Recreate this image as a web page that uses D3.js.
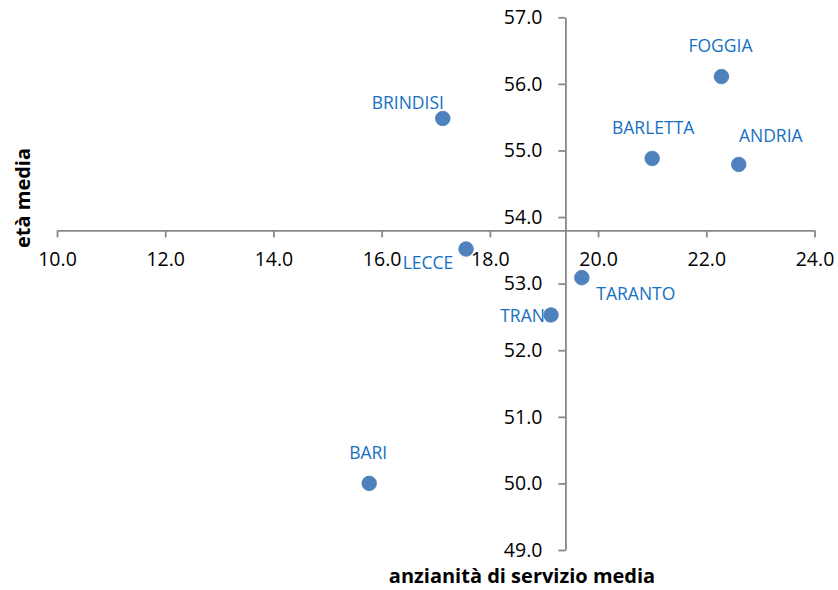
<!DOCTYPE html>
<html>
<head>
<meta charset="utf-8">
<script src="https://cdn.jsdelivr.net/npm/d3@7"></script>
<style>
  html, body { margin: 0; padding: 0; background: #fff; }
  svg { display: block; }
  text { font-family: "Open Sans", "Noto Sans", sans-serif; }
</style>
</head>
<body>
<svg id="chart" width="838" height="590"></svg>
<script>
// Provinces: average years of service (x) vs average age (y)
const cities   = ["BRINDISI", "FOGGIA", "BARLETTA", "ANDRIA", "LECCE", "TARANTO", "TRANI", "BARI"];
const seniority = [17.13, 22.28, 21.0, 22.6, 17.56, 19.7, 19.13, 15.77];
const age       = [55.48, 56.11, 54.88, 54.79, 53.52, 53.09, 52.53, 50.0];

const xTicks = [10, 12, 14, 16, 18, 20, 22, 24];
const yTicks = [49, 50, 51, 52, 53, 54, 55, 56, 57];

const xTitle = "anzianità di servizio media";
const yTitle = "età media";

// Label placement around each point (offset of the label's centre, px)
const labelPlacement = {
  BRINDISI: [-35, -16],
  FOGGIA:   [-1, -31],
  BARLETTA: [1, -30],
  ANDRIA:   [32, -28],
  LECCE:    [-38, 14],
  TARANTO:  [54, 16],
  TRANI:    [-26, 1],
  BARI:     [-1, -30]
};

const svg = d3.select("#chart");

const x = d3.scaleLinear().domain([10, 24]).range([57, 814.5]);
const y = d3.scaleLinear().domain([49, 57]).range([550, 17.3]);

// Axes cross at the mean of each variable
const xCross = d3.mean(seniority);
const yCross = d3.mean(age);

const axisColor = "#898989";
const fmt = d3.format(".1f");

const gx = svg.append("g")
  .attr("transform", `translate(0,${y(yCross)})`)
  .call(d3.axisBottom(x).tickValues(xTicks).tickFormat(fmt)
        .tickSize(7).tickSizeOuter(0).tickPadding(15));

const gy = svg.append("g")
  .attr("transform", `translate(${x(xCross)},0)`)
  .call(d3.axisLeft(y).tickValues(yTicks).tickFormat(fmt)
        .tickSize(7).tickSizeOuter(0).tickPadding(16));

[gx, gy].forEach(g => {
  g.select(".domain").attr("stroke", axisColor).attr("stroke-width", 1.8);
  g.selectAll(".tick line").attr("stroke", axisColor).attr("stroke-width", 1.8);
  g.selectAll(".tick text")
    .attr("fill", "#000")
    .style("font-family", "'Open Sans', sans-serif")
    .style("font-size", "19.5px");
});

const points = cities.map((c, i) => ({ name: c, sx: seniority[i], ay: age[i] }));

// Data labels (drawn beneath the markers)
svg.append("g").selectAll("text")
  .data(points)
  .join("text")
  .attr("x", d => x(d.sx) + labelPlacement[d.name][0])
  .attr("y", d => y(d.ay) + labelPlacement[d.name][1] + 6)
  .attr("text-anchor", "middle")
  .attr("fill", "#1570C2")
  .style("font-size", "17.5px")
  .text(d => d.name);

// Markers
svg.append("g").selectAll("circle")
  .data(points)
  .join("circle")
  .attr("cx", d => x(d.sx))
  .attr("cy", d => y(d.ay))
  .attr("r", 7.3)
  .attr("fill", "#4F81BD")
  .attr("stroke", "#4A7EBB")
  .attr("stroke-width", 0.8);

// Axis titles
svg.append("text")
  .attr("x", 522)
  .attr("y", 583)
  .attr("text-anchor", "middle")
  .style("font-size", "20px")
  .style("font-weight", "bold")
  .attr("fill", "#000")
  .text(xTitle);

svg.append("text")
  .attr("transform", "translate(30,198) rotate(-90)")
  .attr("text-anchor", "middle")
  .style("font-size", "20px")
  .style("font-weight", "bold")
  .attr("fill", "#000")
  .text(yTitle);
</script>
</body>
</html>
